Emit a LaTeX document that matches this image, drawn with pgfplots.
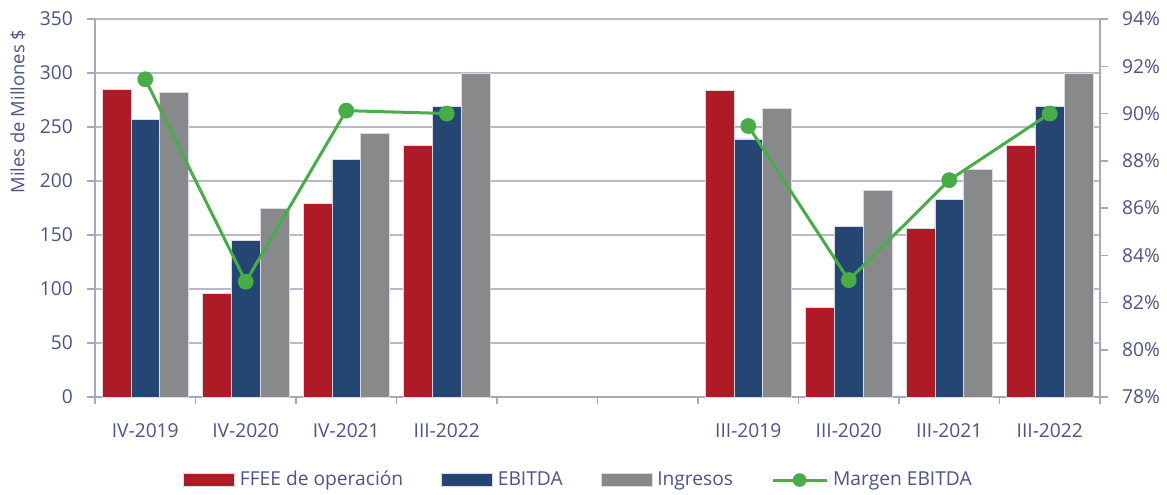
\documentclass[border=0pt]{standalone}
\usepackage{pgfplots}
\pgfplotsset{compat=1.18}
\usepackage{fontspec}
\setmainfont{Open Sans}
\definecolor{cred}{HTML}{AE1A26}
\definecolor{cblue}{HTML}{254573}
\definecolor{cgray}{HTML}{88898B}
\definecolor{cgreen}{HTML}{48AD48}
\definecolor{ctext}{HTML}{4B5583}
\definecolor{caxis}{HTML}{A8A8B8}
\definecolor{cgrid}{HTML}{B8B8C6}
\definecolor{cedge}{HTML}{DADAE0}
\begin{document}
\begin{tikzpicture}
\useasboundingbox (0,0) rectangle (583.5pt,247pt);
\pgfplotsset{
  common/.style={
    at={(47.5pt,48.5pt)}, anchor=south west,
    scale only axis, width=502.5pt, height=189pt,
    xmin=-0.5, xmax=9.5,
    font=\fontsize{9.6}{11.5}\selectfont,
    tick label style={text=ctext},
    /pgf/number format/assume math mode=true,
    tick align=outside,
    major tick length=4pt,
    axis line style={caxis, line width=0.75pt},
    tick style={caxis, line width=0.75pt},
  }
}
\begin{axis}[common,
  axis x line*=bottom, axis y line*=left,
  ymin=0, ymax=350, ytick={0,50,...,350},
  ymajorgrids, grid style={cgrid, line width=0.75pt},
  yticklabel style={xshift=-3.5pt},
  xtick={0,...,9},
  xticklabels={IV-2019,IV-2020,IV-2021,III-2022,,,III-2019,III-2020,III-2021,III-2022},
  xticklabel style={yshift=-6pt},
  major x tick style={draw=none},
  minor xtick={-0.5,0.5,...,9.5},
  minor tick length=3.5pt,
  ybar=0pt, bar width=14.35pt,
  ylabel={Miles de Millones \$},
  ylabel style={text=ctext, font=\fontsize{9.2}{11}\selectfont, at={(axis description cs:-0.0766,0.755)}, anchor=center},
  legend style={at={(0.4816,-0.2196)}, anchor=center, draw=none, fill=none,
    legend columns=-1, font=\fontsize{9.6}{11.5}\selectfont, text=ctext,
    /tikz/every even column/.append style={column sep=17.5pt},
    /tikz/every odd column/.append style={column sep=1pt},
    nodes={inner sep=1.5pt}},
  legend image code/.code={\fill[#1] (0pt,-3.25pt) rectangle (25.5pt,3.25pt);},
]
\addplot[fill=cred, draw=cedge, line width=0.3pt] coordinates {(0,285) (1,96) (2,179) (3,233) (6,284) (7,83) (8,156) (9,233)};
\addplot[fill=cblue, draw=cedge, line width=0.3pt] coordinates {(0,257) (1,145) (2,220) (3,269) (6,239) (7,158) (8,183) (9,269)};
\addplot[fill=cgray, draw=cedge, line width=0.3pt] coordinates {(0,282) (1,175) (2,244) (3,300) (6,267) (7,191) (8,211) (9,300)};
\addlegendimage{legend image code/.code={\draw[cgreen, line width=1.5pt] (0pt,0pt) -- (27pt,0pt); \fill[cgreen] (13.5pt,0pt) circle (3.2pt);}}
\legend{FFEE de operación, EBITDA, Ingresos, Margen EBITDA}
\end{axis}
\begin{axis}[common,
  axis x line=none, axis y line*=right,
  ymin=78, ymax=94, ytick={78,80,...,94},
  yticklabel={\pgfmathprintnumber{\tick}\%},
  yticklabel style={xshift=3.5pt},
  unbounded coords=jump,
]
\addplot[cgreen, line width=1.5pt, mark=*, mark size=3.2pt, mark options={fill=cgreen, draw=cgreen}] coordinates {(0,91.45) (1,82.88) (2,90.12) (3,90.0) (4,nan) (6,89.47) (7,82.95) (8,87.18) (9,90.0)};
\end{axis}
\end{tikzpicture}
\end{document}
